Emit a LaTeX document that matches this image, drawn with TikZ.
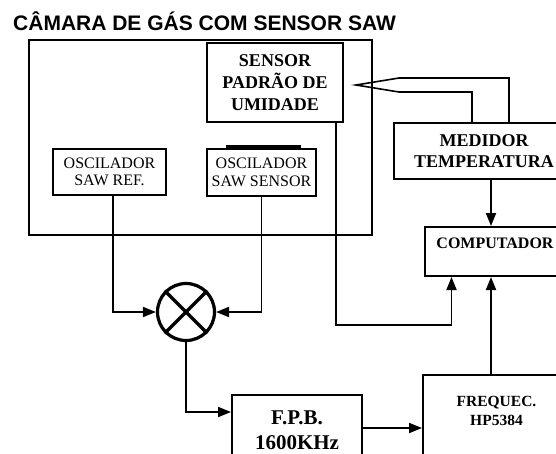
\documentclass[tikz,border=0pt]{standalone}
\usepackage{fontspec}
\setmainfont{Liberation Serif}
\newfontfamily\titlefont{Liberation Sans}
\usetikzlibrary{arrows.meta,calc}
\newcommand\bigbold{\bfseries\fontsize{18}{21.7}\selectfont}
\newcommand\oscfont{\fontsize{16}{17.5}\selectfont}
\begin{document}
\begin{tikzpicture}[x=1pt,y=-1pt,
  box/.style={draw,line width=2pt,inner sep=0pt,align=center},
  conn/.style={line width=1.9pt},
  arr/.style={conn,-{Triangle[length=13pt,width=10pt]}},
  hollow/.style={line width=1.6pt,line join=miter}]
\useasboundingbox (0,0) rectangle (556,453);
\clip (0,0) rectangle (556,453);
% title
\node[anchor=base west,inner sep=0pt,font=\titlefont\bfseries\fontsize{21}{25}\selectfont] (title) at (13,30) {CÂMARA DE GÁS COM SENSOR SAW};
% boxes
\node[box,minimum width=343pt,minimum height=195pt] (chamber) at (200.5,137.5) {};
\node[box,minimum width=136pt,minimum height=79pt,font=\bigbold] (sensor) at (275,82.5) {SENSOR\\PADRÃO DE\\UMIDADE};
\node[box,minimum width=113pt,minimum height=46pt,font=\oscfont] (oscref) at (109.5,172) {OSCILADOR\\SAW REF.};
\node[box,minimum width=109pt,minimum height=47pt,font=\oscfont] (oscsen) at (261.5,172.5) {OSCILADOR\\SAW SENSOR};
\fill (226,144.5) rectangle (301,149);
\node[box,minimum width=180pt,minimum height=56pt,font=\bigbold] (med) at (484,151) {MEDIDOR\\TEMPERATURA};
\node[box,minimum width=140pt,minimum height=49pt] (comp) at (495,251.5) {};
\node[anchor=base,inner sep=0pt,font=\bfseries\fontsize{16}{18}\selectfont] (comptxt) at (495,248) {COMPUTADOR};
\node[box,minimum width=147pt,minimum height=105pt] (freq) at (496.5,427.5) {};
\node[inner sep=0pt,align=center,font=\bfseries\fontsize{15.5}{19}\selectfont] (freqtxt) at (496.5,410.5) {FREQUEC.\\HP5384};
\node[box,minimum width=130pt,minimum height=85pt] (fpb) at (297,437.5) {};
\node[inner sep=0pt,align=center,font=\bfseries\fontsize{21}{25}\selectfont] (fpbtxt) at (297,430) {F.P.B.\\1600KHz};
% mixer
\node[circle,draw,line width=3.2pt,minimum size=57pt,inner sep=0pt] (mix) at (186,312) {};
\draw[line width=3.2pt] (mix.north west) -- (mix.south east);
\draw[line width=3.2pt] (mix.north east) -- (mix.south west);
% helper coordinates
\coordinate (xref) at (113,0);
\coordinate (xs) at (336,0);
\coordinate (xc) at (451.5,0);
\coordinate (xr) at (491,0);
\coordinate (ysc) at (0,325);
\coordinate (yfpb) at (0,412);
\coordinate (yout) at (0,428);
\coordinate (hx1) at (472,0);
\coordinate (hx2) at (509,0);
\coordinate (ua) at (399,78);
\coordinate (la) at (399,92);
\coordinate (tip) at ($(sensor.east)+(12,2.5)$);
% connectors
\draw[arr] (oscref.south -| xref) |- (mix.west);
\draw[arr] (oscsen.south) |- (mix.east);
\draw[arr] (mix.south) |- (fpb.west |- yfpb);
\draw[arr] (fpb.east |- yout) -- (freq.west |- yout);
\draw[arr] (freq.north -| xr) -- (comp.south -| xr);
\draw[arr] (med.south -| xr) -- (comp.north -| xr);
\draw[arr] (sensor.south -| xs) -- (xs |- ysc) -- (xc |- ysc) -- (comp.south -| xc);
\draw[hollow] (med.north -| hx2) |- (ua) -- (tip) -- (la) -| (med.north -| hx1);
\end{tikzpicture}
\end{document}
